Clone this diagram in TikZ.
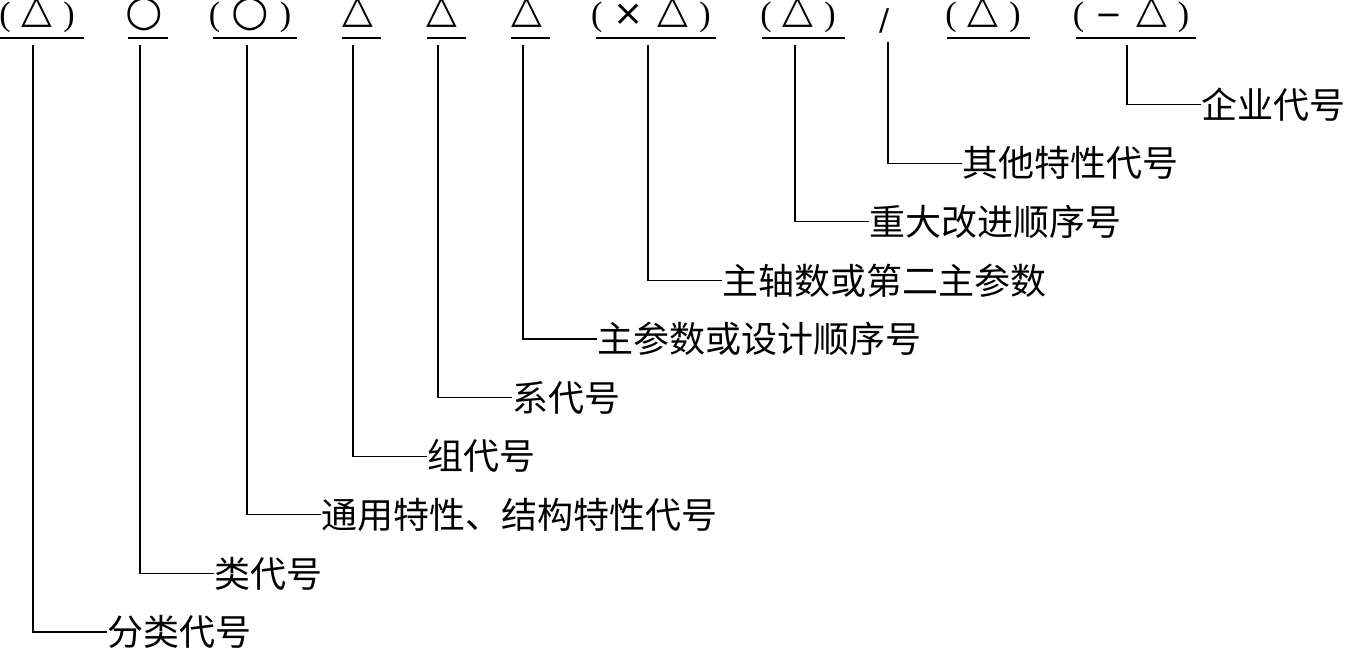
\documentclass[tikz,border=0pt]{standalone}
\usepackage{fontspec}
\newfontfamily\cjk{Noto Sans CJK SC}
\newfontfamily\ser{Liberation Serif}
\newfontfamily\dvs{DejaVu Sans}
\newcommand{\tri}{\raisebox{3.6pt}{\dvs\fontsize{40}{40}\selectfont △}}
\newcommand{\cir}{\raisebox{0pt}{\dvs\fontsize{43}{43}\selectfont ○}}
\newcommand{\tms}{{\dvs\fontsize{36}{36}\selectfont ×}}
\newcommand{\mns}{{\dvs\fontsize{32}{32}\selectfont −}}
\newcommand{\gp}{\hspace{11pt}}
\begin{document}
\begin{tikzpicture}[x=1pt,y=-1pt,line width=1.3pt,
  lbl/.style={font=\cjk\fontsize{36}{36}\selectfont,anchor=west,inner sep=0pt},
  sym/.style={font=\ser\fontsize{34}{34}\selectfont,anchor=base,inner sep=0pt},
  uline/.style={inner sep=0pt,minimum height=0pt}]
\useasboundingbox (0,0) rectangle (1351,652);
% symbols on top
\node[sym] (s1)  at (37,26)   {(\gp\tri\gp)};
\node[sym] (s2)  at (144,26)  {\cir};
\node[sym] (s3)  at (250,26)  {(\gp\cir\gp)};
\node[sym] (s4)  at (358,26)  {\tri};
\node[sym] (s5)  at (442,26)  {\tri};
\node[sym] (s6)  at (527,26)  {\tri};
\node[sym] (s7)  at (651,26)  {(\gp\tms\hspace{14pt}\tri\gp)};
\node[sym] (s8)  at (798,26)  {(\gp\tri\gp)};
\node[sym,font=\dvs\fontsize{30}{30}\selectfont] (s9) at (885,31) {/};
\node[sym] (s10) at (983,26)  {(\gp\tri\gp)};
\node[sym] (s11) at (1131,26) {(\gp\mns\hspace{14pt}\tri\gp)};
% underlines
\node[uline,minimum width=83pt]  (u1)  at (41.5,38) {};
\node[uline,minimum width=38pt]  (u2)  at (148,38)  {};
\node[uline,minimum width=82pt]  (u3)  at (255,38)  {};
\node[uline,minimum width=37pt]  (u4)  at (361.5,38) {};
\node[uline,minimum width=37pt]  (u5)  at (446.5,38) {};
\node[uline,minimum width=37pt]  (u6)  at (530.5,38) {};
\node[uline,minimum width=118pt] (u7)  at (656,38)  {};
\node[uline,minimum width=81pt]  (u8)  at (803.5,38) {};
\node[uline,minimum width=81pt]  (u10) at (988.5,38) {};
\node[uline,minimum width=118pt] (u11) at (1136,38) {};
\foreach \u in {u1,u2,u3,u4,u5,u6,u7,u8,u10,u11}
  \draw (\u.west) -- (\u.east);
% labels
\node[lbl] (l1)  at (107,632)   {分类代号};
\node[lbl] (l2)  at (214,573.4) {类代号};
\node[lbl] (l3)  at (321,514.8) {通用特性、结构特性代号};
\node[lbl] (l4)  at (427,456.2) {组代号};
\node[lbl] (l5)  at (512,397.6) {系代号};
\node[lbl] (l6)  at (597,339)   {主参数或设计顺序号};
\node[lbl] (l7)  at (722,280.4) {主轴数或第二主参数};
\node[lbl] (l8)  at (869,221.8) {重大改进顺序号};
\node[lbl] (l9)  at (962,163.2) {其他特性代号};
\node[lbl] (l11) at (1201,104.6) {企业代号};
% connector tops
\coordinate (t1)  at (33,45);
\coordinate (t2)  at (140,45);
\coordinate (t3)  at (247,45);
\coordinate (t4)  at (353,45);
\coordinate (t5)  at (438,45);
\coordinate (t6)  at (523,45);
\coordinate (t7)  at (648,45);
\coordinate (t8)  at (795,45);
\coordinate (t9)  at (888,42);
\coordinate (t11) at (1127,45);
\foreach \a/\b in {t1/l1,t2/l2,t3/l3,t4/l4,t5/l5,t6/l6,t7/l7,t8/l8,t9/l9,t11/l11}
  \draw (\a) |- (\b.west);
\end{tikzpicture}
\end{document}
